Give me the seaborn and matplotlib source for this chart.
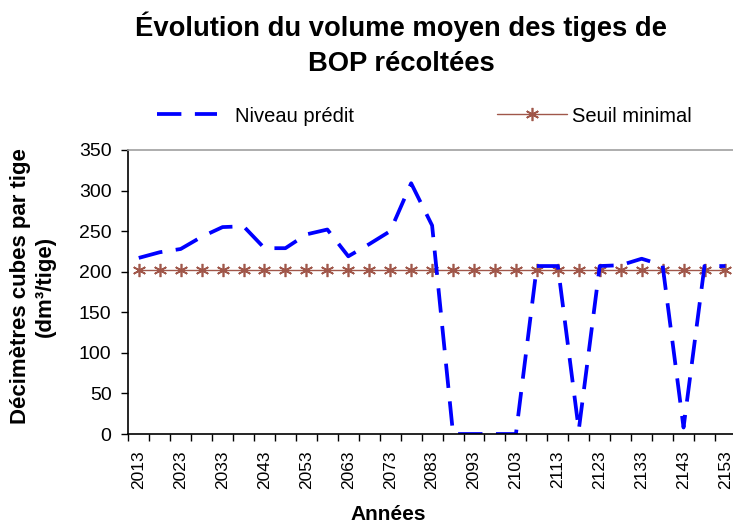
import matplotlib
matplotlib.use('Agg')
import matplotlib.pyplot as plt
from matplotlib.ticker import FixedLocator
import seaborn as sns
import pandas as pd

# ------------------------------------------------------------
# Data
# ------------------------------------------------------------
years = [2013, 2018, 2023, 2028, 2033, 2038, 2043, 2048, 2053, 2058,
         2063, 2068, 2073, 2078, 2083, 2088, 2093, 2098, 2103, 2108,
         2113, 2118, 2123, 2128, 2133, 2138, 2143, 2148, 2153]
niveau_predit = [217, 224, 228, 243, 255, 256, 229, 229, 246, 252,
                 219, 234, 250, 309, 257, 0, 0, 0, 0, 207,
                 207, 5, 207, 208, 216, 208, 8, 207, 207]
seuil_minimal = [202] * len(years)
label_years = [2013, 2023, 2033, 2043, 2053, 2063, 2073, 2083,
               2093, 2103, 2113, 2123, 2133, 2143, 2153]
y_ticks = [0, 50, 100, 150, 200, 250, 300, 350]

df = pd.DataFrame({'annee': years, 'predit': niveau_predit, 'seuil': seuil_minimal})

sns.set_theme(style='white')
plt.rcParams['font.family'] = ['Liberation Sans', 'DejaVu Sans']
plt.rcParams['text.color'] = 'black'
plt.rcParams['xtick.color'] = 'black'
plt.rcParams['ytick.color'] = 'black'
plt.rcParams['axes.labelcolor'] = 'black'

fig = plt.figure(figsize=(7.33, 5.25), dpi=100)
ax = fig.add_axes([0.175, 0.1733, 0.829, 0.541])

brown = '#A0574A'
sns.lineplot(data=df, x='annee', y='seuil', ax=ax, color=brown, lw=1.0,
             marker=(6, 2, 0), markersize=9.5, markeredgewidth=1.2,
             markeredgecolor=brown, label='Seuil minimal')
sns.lineplot(data=df, x='annee', y='predit', ax=ax, color='#0000FF', lw=2.7,
             label='Niveau prédit')
ax.lines[-1].set_dashes((6.5, 3.6))
ax.get_legend().remove()

h_pred = ax.lines[-1]
h_seuil = ax.lines[0]

ax.set_xlim(years[0] - 2.5, years[-1] + 2.5)
ax.set_ylim(0, 350)
ax.set_xlabel('')
ax.set_ylabel('')

ax.set_xticks(label_years)
ax.set_xticklabels([str(y) for y in label_years], rotation=90, fontsize=12.5)
ax.xaxis.set_minor_locator(FixedLocator([y - 2.5 for y in years] + [years[-1] + 2.5]))
ax.tick_params(axis='x', which='major', length=0, pad=12)
ax.tick_params(axis='x', which='minor', length=5, width=1, color='black', direction='out', bottom=True)
ax.set_yticks(y_ticks)
ax.set_yticklabels([str(v) for v in y_ticks], fontsize=14)
ax.tick_params(axis='y', length=5, width=1, color='black', direction='out', left=True, pad=7)

for s in ['left', 'bottom']:
    ax.spines[s].set_color('black')
    ax.spines[s].set_linewidth(1.2)
ax.spines['top'].set_color('#A0A0A0')
ax.spines['top'].set_linewidth(1.2)
ax.spines['right'].set_visible(False)
ax.grid(False)

# Titles and axis labels
fig.text(401 / 733, 1 - 44 / 525, 'Évolution du volume moyen des tiges de\nBOP récoltées',
         ha='center', va='center', fontsize=19.7, fontweight='bold', linespacing=1.45)
fig.text(33 / 733, 1 - 286 / 525, 'Décimètres cubes par tige\n(dm³/tige)',
         ha='center', va='center', rotation=90, fontsize=16, fontweight='bold',
         linespacing=1.2, multialignment='center')
fig.text(388 / 733, 1 - 514 / 525, 'Années', ha='center', va='center',
         fontsize=15, fontweight='bold')

# Legend (two separate entries on top)
fig.legend([h_pred], ['Niveau prédit'], loc='center left',
           bbox_to_anchor=(157 / 733, 1 - 116 / 525), frameon=False,
           borderpad=0, borderaxespad=0, handlelength=3.0, handletextpad=0.85,
           fontsize=14.5)
fig.legend([h_seuil], ['Seuil minimal'], loc='center left',
           bbox_to_anchor=(497 / 733, 1 - 116 / 525), frameon=False,
           borderpad=0, borderaxespad=0, handlelength=3.5, handletextpad=0.2,
           fontsize=14.5)

fig.savefig('out.png', dpi=100)
